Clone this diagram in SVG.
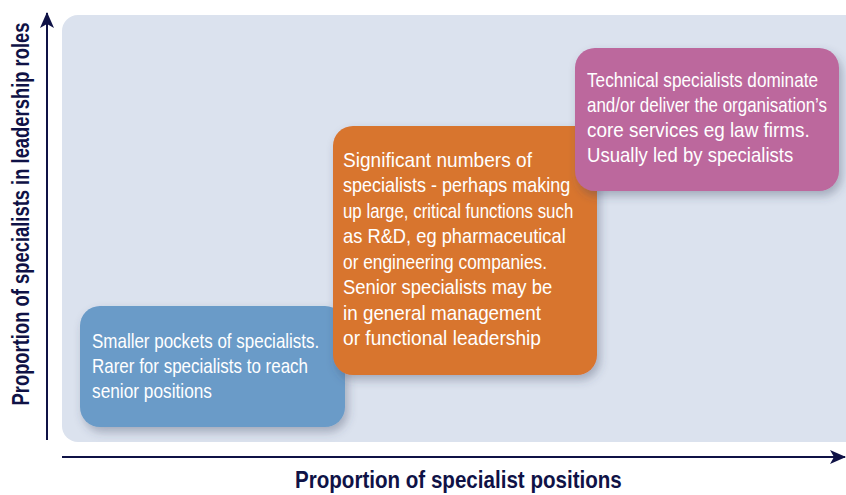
<svg xmlns="http://www.w3.org/2000/svg" width="846" height="495" viewBox="0 0 846 495">
  <style>
    .box-text { font-family: "Liberation Sans", Arial, sans-serif; font-size: 20.5px; fill: #ffffff; }
    .axis-label { font-family: "Liberation Sans", Arial, sans-serif; font-size: 23px; font-weight: bold; fill: #0f1246; }
    .axis { stroke: #0f1246; stroke-width: 2; fill: none; }
  </style>
  <defs>
    <filter id="shadow" x="-20%" y="-20%" width="140%" height="150%">
      <feDropShadow dx="3" dy="5" stdDeviation="5" flood-color="#3a4360" flood-opacity="0.35"/>
    </filter>
    <marker id="arrow" viewBox="0 0 16 14" refX="15" refY="7" markerWidth="16" markerHeight="14" markerUnits="userSpaceOnUse" orient="auto">
      <path d="M0,0 L16,7 L0,14 L4,7 Z" fill="#0f1246"/>
    </marker>
  </defs>

  <!-- plot area -->
  <rect id="plot-area" x="62" y="15" width="800" height="427" rx="16" fill="#dbe2ee"/>

  <!-- axes -->
  <g id="connectors">
    <line class="axis" x1="47" y1="440" x2="47" y2="13" marker-end="url(#arrow)"/>
    <line class="axis" x1="62" y1="457" x2="845" y2="457" marker-end="url(#arrow)"/>
  </g>

  <!-- axis titles, set in a narrowed face -->
  <text class="axis-label" transform="translate(29,214) rotate(-90) scale(0.72,1)" text-anchor="middle" textLength="532" lengthAdjust="spacingAndGlyphs">Proportion of specialists in leadership roles</text>
  <text class="axis-label" transform="translate(295,488) scale(0.76,1)" textLength="430" lengthAdjust="spacingAndGlyphs">Proportion of specialist positions</text>

  <!-- low: blue -->
  <g id="node-low">
    <rect x="80" y="306" width="265" height="121" rx="20" fill="#6a9bc8" filter="url(#shadow)"/>
    <g transform="translate(92,0) scale(0.75,1)">
      <text class="box-text" x="0" y="348" textLength="303" lengthAdjust="spacingAndGlyphs">Smaller pockets of specialists.</text>
      <text class="box-text" x="0" y="373" textLength="288" lengthAdjust="spacingAndGlyphs">Rarer for specialists to reach</text>
      <text class="box-text" x="0" y="398" textLength="160" lengthAdjust="spacingAndGlyphs">senior positions</text>
    </g>
  </g>

  <!-- middle: orange -->
  <g id="node-mid">
    <rect x="333" y="126" width="264" height="249" rx="20" fill="#d8742e" filter="url(#shadow)"/>
    <g transform="translate(343,0) scale(0.75,1)">
      <text class="box-text" x="0" y="167" textLength="252" lengthAdjust="spacingAndGlyphs">Significant numbers of</text>
      <text class="box-text" x="0" y="192.5" textLength="303" lengthAdjust="spacingAndGlyphs">specialists - perhaps making</text>
      <text class="box-text" x="0" y="218" textLength="307" lengthAdjust="spacingAndGlyphs">up large, critical functions such</text>
      <text class="box-text" x="0" y="243.5" textLength="297" lengthAdjust="spacingAndGlyphs">as R&amp;D, eg pharmaceutical</text>
      <text class="box-text" x="0" y="269" textLength="272" lengthAdjust="spacingAndGlyphs">or engineering companies.</text>
      <text class="box-text" x="0" y="294.5" textLength="279" lengthAdjust="spacingAndGlyphs">Senior specialists may be</text>
      <text class="box-text" x="0" y="320" textLength="264" lengthAdjust="spacingAndGlyphs">in general management</text>
      <text class="box-text" x="0" y="345.5" textLength="264" lengthAdjust="spacingAndGlyphs">or functional leadership</text>
    </g>
  </g>

  <!-- high: pink -->
  <g id="node-high">
    <rect x="575" y="48" width="264" height="143" rx="20" fill="#bc679d" filter="url(#shadow)"/>
    <g transform="translate(587,0) scale(0.75,1)">
      <text class="box-text" x="0" y="87" textLength="308" lengthAdjust="spacingAndGlyphs">Technical specialists dominate</text>
      <text class="box-text" x="0" y="112" textLength="320" lengthAdjust="spacingAndGlyphs">and/or deliver the organisation’s</text>
      <text class="box-text" x="0" y="137" textLength="297" lengthAdjust="spacingAndGlyphs">core services eg law firms.</text>
      <text class="box-text" x="0" y="162" textLength="275" lengthAdjust="spacingAndGlyphs">Usually led by specialists</text>
    </g>
  </g>
</svg>
